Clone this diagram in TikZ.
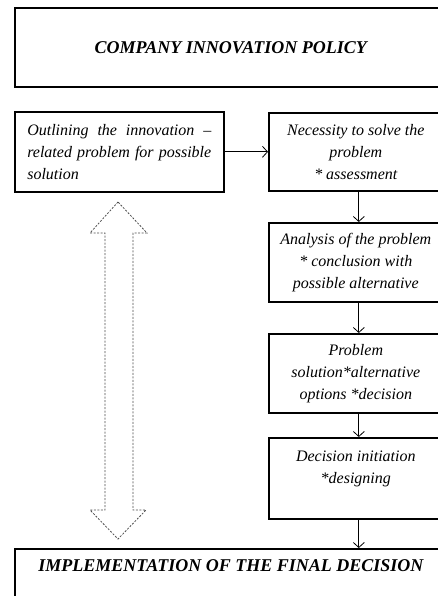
\documentclass[tikz,border=0pt]{standalone}
\usepackage{fontspec}
\setmainfont{Liberation Serif}
\usetikzlibrary{arrows.meta}
\begin{document}
\begin{tikzpicture}[x=1pt,y=-1pt,
  box/.style={draw, line width=1.6pt, inner sep=0pt, anchor=north west,
    font=\fontsize{16}{22}\selectfont\itshape, align=center},
  headbox/.style={box, minimum width=432pt,
    font=\fontsize{18}{22}\selectfont\bfseries\itshape},
  stepbox/.style={box, minimum width=174pt, minimum height=79pt},
  flow/.style={-{Straight Barb[length=5pt,width=11pt]}, line width=0.8pt},
  bigarrow/.style={draw=black!70, line width=0.8pt, dash pattern=on 2pt off 1.5pt}
]
\useasboundingbox (0,0) rectangle (438,596);

\node[headbox, minimum height=79pt] (policy) at (14,7) {COMPANY INNOVATION POLICY};

\node[box, minimum width=209pt, minimum height=80pt, align=left] (outline) at (14,111)
  {\makebox[184pt][s]{Outlining the innovation --}\\
   \makebox[184pt][s]{related problem for possible}\\
   solution};

\node[stepbox, minimum height=78pt] (need) at (268,112)
  {Necessity to solve the\\ problem\\ * assessment};
\node[stepbox] (analysis) at (268,222)
  {Analysis of the problem\\ * conclusion with\\ possible alternative};
\node[stepbox] (solution) at (268,333)
  {Problem\\ solution*alternative\\ options *decision};
\node[stepbox, minimum height=81pt] (init) at (268,437)
  {Decision initiation\\ *designing\\ \mbox{}};

\node[headbox, minimum height=80pt, text height=13pt, text depth=65pt, inner ysep=10pt] (impl) at (14,548)
  {IMPLEMENTATION OF THE FINAL DECISION};

\draw[flow] (outline.east) -- (outline.east -| need.west);
\draw[flow] ([xshift=3pt]need.south) -- ([xshift=3pt]need.south |- analysis.north);
\draw[flow] ([xshift=3pt]analysis.south) -- ([xshift=3pt]analysis.south |- solution.north);
\draw[flow] ([xshift=3pt]solution.south) -- ([xshift=3pt]solution.south |- init.north);
\draw[flow] ([xshift=3pt]init.south) -- ([xshift=3pt]init.south |- impl.north);

\draw[bigarrow] (118,202) -- (90,233) -- (105,233) -- (105,510) -- (90,510)
  -- (118,539) -- (146,510) -- (133,510) -- (133,233) -- (147,233) -- cycle;
\end{tikzpicture}
\end{document}
